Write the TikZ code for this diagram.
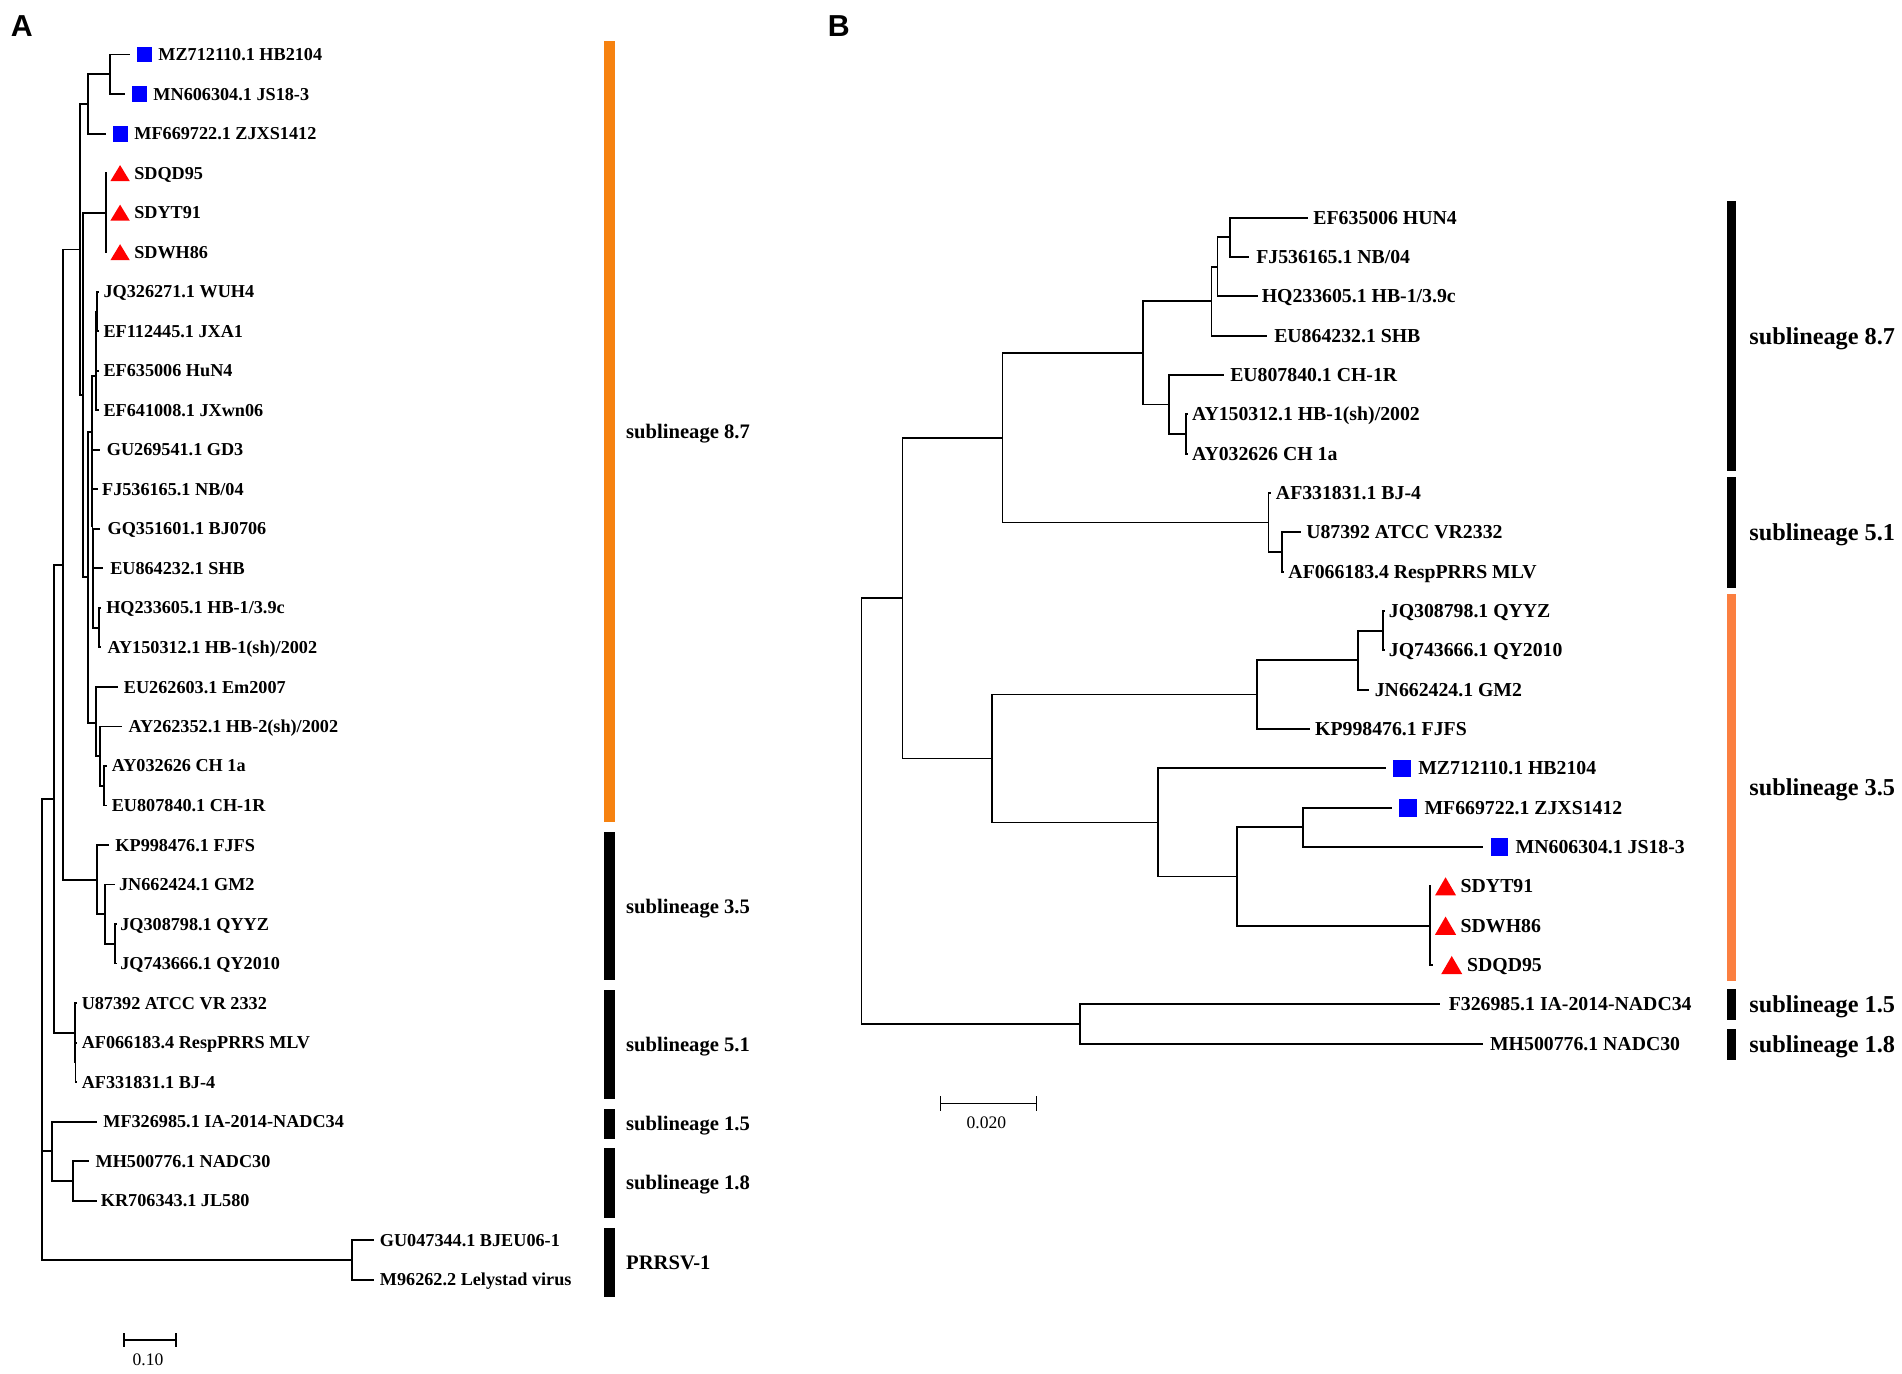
\documentclass[tikz,border=0pt]{standalone}
\usepackage{fontspec}
\setmainfont{Liberation Serif}
\newfontfamily\panelfont{Liberation Sans}
\definecolor{OrangeClr}{RGB}{246,130,16}
\definecolor{CoralClr}{RGB}{251,127,64}
\definecolor{SquareClr}{RGB}{0,0,255}
\definecolor{TriangleClr}{RGB}{255,0,0}
\tikzset{
  branch/.style={line width=1.5pt},
  scalebar/.style={line width=1.2pt},
  taxonA/.style={anchor=base west,inner sep=0pt,yshift=-5pt,font=\bfseries\fontsize{15}{15}\selectfont},
  taxonB/.style={anchor=base west,inner sep=0pt,yshift=-5.4pt,font=\bfseries\fontsize{16.3}{16}\selectfont},
  cladeA/.style={anchor=base west,inner sep=0pt,yshift=-5.7pt,font=\bfseries\fontsize{17}{17}\selectfont},
  cladeB/.style={anchor=base west,inner sep=0pt,yshift=-6.7pt,font=\bfseries\fontsize{20}{20}\selectfont},
  panel/.style={inner sep=0pt,font=\panelfont\bfseries\fontsize{25}{25}\selectfont},
  scalelbl/.style={inner sep=0pt,font=\fontsize{14.5}{14.5}\selectfont}
}
\begin{document}
\begin{tikzpicture}[x=1pt,y=-1pt]
\useasboundingbox (0,0) rectangle (1568,1132);

\node[panel] (pA) at (18,21.5) {A};
\node[panel] (pB) at (691.5,21.5) {B};

\foreach \n/\x/\y in {aRoot/34.4/660,aX/44.2/658.5,aY/52.2/465.6,aW/66.0/205.7,
  aTop/72.5/85.8,aTopB/90.7/61.3,aSD/87.4/175.3,aW2/68.2/325.7,aW3/72.8/476,
  aW4/75.6/356,aJQ/79.1/309.7,aJQb/79.4/281.2,aJQc/79.7/256.8,aW5/75.9/402.4,
  aW6/76.2/434,aW7/76.5/464.5,aW8/76.9/493,aHQ/81.9/517.4,aEm/79.1/596,
  aEmB/82.4/623.3,aCH/85.7/647.7,aL3/80.3/725.5,aL3b/86.8/753.6,aL3c/95.0/778.0,
  aL5/61.6/851.4,aL5b/62.3/875.8,aL1/42.6/949.1,aL1b/60.0/973.5,aP1/290.0/1038.7}
  \coordinate (\n) at (\x,\y);

\foreach \n/\x/\y/\d/\t in {tWUH/81.5/240.5/3.7/{JQ326271.1 WUH4},
  tJXA/81.5/273.1/3.7/{EF112445.1 JXA1},tHuN/81.5/305.6/3.7/{EF635006 HuN4},
  tJXwn/81.5/338.2/3.7/{EF641008.1 JXwn06},tGD/82.4/370.8/5.5/{GU269541.1 GD3},
  tNB/80.5/403.4/3.5/{FJ536165.1 NB/04},tBJ07/82.6/436.0/5.9/{GQ351601.1 BJ0706},
  tSHB/85.2/468.5/5.5/{EU864232.1 SHB},tHB1/83.2/501.1/4.2/{HQ233605.1 HB-1/3.9c},
  tHBsh/83.2/533.7/5.3/{AY150312.1 HB-1(sh)/2002},tEm/97.5/566.3/4.5/{EU262603.1 Em2007},
  tHB2/100.3/598.9/5.5/{AY262352.1 HB-2(sh)/2002},tCH1a/88.0/631.4/4/{AY032626 CH 1a},
  tCH1R/88.0/664.0/4/{EU807840.1 CH-1R},tFJFS/90.0/696.6/5/{KP998476.1 FJFS},
  tGM2/95.0/729.2/3/{JN662424.1 GM2},tQYYZ/96.3/761.8/2.7/{JQ308798.1 QYYZ},
  tQY/96.3/794.3/2.7/{JQ743666.1 QY2010},tVR/63.5/826.9/3.7/{U87392 ATCC VR 2332},
  tMLV/63.5/859.5/3.7/{AF066183.4 RespPRRS MLV},tBJ4/63.5/892.1/3.7/{AF331831.1 BJ-4},
  tN34/80.3/924.7/4.7/{MF326985.1 IA-2014-NADC34},tN30/73.7/957.2/4.9/{MH500776.1 NADC30},
  tJL/80.3/989.8/2.7/{KR706343.1 JL580},tBJEU/308/1022.4/5/{GU047344.1 BJEU06-1},
  tLV/308/1055.0/5/{M96262.2 Lelystad virus}}
  {\coordinate (\n) at (\x,\y);
   \node[taxonA] (l\n) at ({\x+\d},\y) {\t};}

\foreach \n/\x/\y/\t in {tMZ/107.2/45.0/{MZ712110.1 HB2104},
  tMN/103.1/77.6/{MN606304.1 JS18-3},tMF/87.4/110.2/{MF669722.1 ZJXS1412}}
  {\coordinate (\n) at (\x,\y);
   \fill[SquareClr] ({\x+5.35},{\y-6.5}) rectangle ++(12.5,13);
   \node[taxonA] (l\n) at ({\x+23.2},\y) {\t};}

\foreach \n/\x/\y/\t in {tQD/88.5/142.7/SDQD95,tYT/88.5/175.3/SDYT91,tWH/88.5/207.9/SDWH86}
  {\coordinate (\n) at (\x,\y);
   \fill[TriangleClr] ({\x+2.5},{\y+6.6}) -- ++(16,0) -- ++(-8,-13.2) -- cycle;
   \node[taxonA] (l\n) at ({\x+22},\y) {\t};}

\foreach \p/\c in {aRoot/aX,aRoot/aL1,aRoot/aP1,aX/aY,aX/aL5,aY/aW,aY/aL3,
  aW/aTop,aW/aW2,aTop/aTopB,aTop/tMF,aTopB/tMZ,aTopB/tMN,
  aW2/aSD,aW2/aW3,aSD/tQD,aSD/tYT,aSD/tWH,aW3/aW4,aW3/aEm,
  aW4/aJQ,aW4/aW5,aJQ/aJQb,aJQ/tJXwn,aJQb/aJQc,aJQb/tHuN,aJQc/tWUH,aJQc/tJXA,
  aW5/tGD,aW5/aW6,aW6/tNB,aW6/aW7,aW7/tBJ07,aW7/aW8,aW8/tSHB,aW8/aHQ,aHQ/tHB1,aHQ/tHBsh,
  aEm/tEm,aEm/aEmB,aEmB/tHB2,aEmB/aCH,aCH/tCH1a,aCH/tCH1R,
  aL3/tFJFS,aL3/aL3b,aL3b/tGM2,aL3b/aL3c,aL3c/tQYYZ,aL3c/tQY,
  aL5/tVR,aL5/aL5b,aL5b/tMLV,aL5b/tBJ4,aL1/tN34,aL1/aL1b,aL1b/tN30,aL1b/tJL,
  aP1/tBJEU,aP1/tLV}
  \draw[branch] (\p) |- (\c);

\fill[OrangeClr] (498,34) rectangle (507,678);
\fill (498,686) rectangle (507,808);
\fill (498,816) rectangle (507,906);
\fill (498,914) rectangle (507,939);
\fill (498,946) rectangle (507,1004);
\fill (498,1012) rectangle (507,1069);
\node[cladeA] (cA87) at (516,356) {sublineage 8.7};
\node[cladeA] (cA35) at (516,747) {sublineage 3.5};
\node[cladeA] (cA51) at (516,861) {sublineage 5.1};
\node[cladeA] (cA15) at (516,926.5) {sublineage 1.5};
\node[cladeA] (cA18) at (516,975) {sublineage 1.8};
\node[cladeA] (cA1) at (516,1040.5) {PRRSV-1};

\coordinate (sa0) at (102.2,1104.7);
\coordinate (sa1) at (145.1,1104.7);
\draw[scalebar] (sa0) -- (sa1);
\draw[scalebar] (sa0) ++(0,-5.5) -- ++(0,11);
\draw[scalebar] (sa1) ++(0,-5.5) -- ++(0,11);
\node[scalelbl] (saL) at (122,1121) {0.10};

\foreach \n/\x/\y in {bRoot/710.2/493,bA/744.0/493,bB/826.5/360.8,bB87/942.2/290.9,
  b8a/998.7/248.3,b8d/1003.7/219.9,b8c/1014.3/195.6,b8b/964.0/333.5,b8e/977.5/357.8,
  bL5/1045.8/430.7,bL5b/1056.7/455.1,bC/817.6/625.3,bL3/1036.1/572.6,b3a/1119.5/544.2,
  b3b/1140.0/519.9,bD/954.6/678.0,bE/1019.9/722.6,bF/1074.4/682.1,bSD/1178.6/763.1,
  bL1/890.3/844.2}
  \coordinate (\n) at (\x,\y);

\foreach \n/\x/\y/\d/\t in {sHuN/1078.2/179.4/4.4/{EF635006 HUN4},
  sNB/1029.6/211.8/5.9/{FJ536165.1 NB/04},sHB1/1037/244.3/3.0/{HQ233605.1 HB-1/3.9c},
  sSHB/1044.4/276.7/5.9/{EU864232.1 SHB},sCH1R/1009/309.1/5/{EU807840.1 CH-1R},
  sHBsh/979.5/341.6/3/{AY150312.1 HB-1(sh)/2002},sCH1a/979.5/374.0/3/{AY032626 CH 1a},
  sBJ4/1048/406.4/3.7/{AF331831.1 BJ-4},sVR/1072.3/438.8/4.4/{U87392 ATCC VR2332},
  sMLV/1058.5/471.3/3.5/{AF066183.4 RespPRRS MLV},sQYYZ/1141.5/503.7/3.3/{JQ308798.1 QYYZ},
  sQY/1141.5/536.1/3.3/{JQ743666.1 QY2010},sGM2/1128.9/568.6/4.3/{JN662424.1 GM2},
  sFJFS/1079.6/601.0/4.4/{KP998476.1 FJFS},sN34/1187/828.0/7.2/{F326985.1 IA-2014-NADC34},
  sN30/1222.6/860.4/5.6/{MH500776.1 NADC30}}
  {\coordinate (\n) at (\x,\y);
   \node[taxonB] (l\n) at ({\x+\d},\y) {\t};}

\foreach \n/\x/\y/\t in {sMZ/1142.5/633.4/{MZ712110.1 HB2104},
  sMF/1147.7/665.9/{MF669722.1 ZJXS1412},sMN/1222.8/698.3/{MN606304.1 JS18-3}}
  {\coordinate (\n) at (\x,\y);
   \fill[SquareClr] ({\x+5.95},{\y-7.25}) rectangle ++(14.5,14.5);
   \node[taxonB] (l\n) at ({\x+26.5},\y) {\t};}

\foreach \n/\x/\y/\s/\d/\t in {sYT/1180/730.7/11.7/24/SDYT91,
  sWH/1180/763.1/11.7/24/SDWH86,sQD/1181/795.6/15.8/28.3/SDQD95}
  {\coordinate (\n) at (\x,\y);
   \fill[TriangleClr] ({\x+\s-8.7},{\y+7.5}) -- ++(17.4,0) -- ++(-8.7,-15) -- cycle;
   \node[taxonB] (l\n) at ({\x+\d},\y) {\t};}

\foreach \p/\c in {bRoot/bA,bRoot/bL1,bA/bB,bA/bC,bB/bB87,bB/bL5,
  bB87/b8a,bB87/b8b,b8a/b8d,b8a/sSHB,b8d/b8c,b8d/sHB1,b8c/sHuN,b8c/sNB,
  b8b/sCH1R,b8b/b8e,b8e/sHBsh,b8e/sCH1a,bL5/sBJ4,bL5/bL5b,bL5b/sVR,bL5b/sMLV,
  bC/bL3,bC/bD,bL3/b3a,bL3/sFJFS,b3a/b3b,b3a/sGM2,b3b/sQYYZ,b3b/sQY,
  bD/sMZ,bD/bE,bE/bF,bE/bSD,bF/sMF,bF/sMN,bSD/sYT,bSD/sWH,bSD/sQD,
  bL1/sN34,bL1/sN30}
  \draw[branch] (\p) |- (\c);

\fill (1423.5,166) rectangle (1431.5,388);
\fill (1423.5,393) rectangle (1431.5,485);
\fill[CoralClr] (1423.5,490) rectangle (1431.5,809);
\fill (1423.5,815) rectangle (1431.5,841);
\fill (1423.5,848) rectangle (1431.5,874);
\node[cladeB] (cB87) at (1442,277) {sublineage 8.7};
\node[cladeB] (cB51) at (1442,439) {sublineage 5.1};
\node[cladeB] (cB35) at (1442,649.5) {sublineage 3.5};
\node[cladeB] (cB15) at (1442,828) {sublineage 1.5};
\node[cladeB] (cB18) at (1442,861) {sublineage 1.8};

\coordinate (sb0) at (775.4,909.6);
\coordinate (sb1) at (854.3,909.6);
\draw[scalebar] (sb0) -- (sb1);
\draw[scalebar] (sb0) ++(0,-6) -- ++(0,12);
\draw[scalebar] (sb1) ++(0,-6) -- ++(0,12);
\node[scalelbl] (sbL) at (813.2,926) {0.020};

\end{tikzpicture}
\end{document}
